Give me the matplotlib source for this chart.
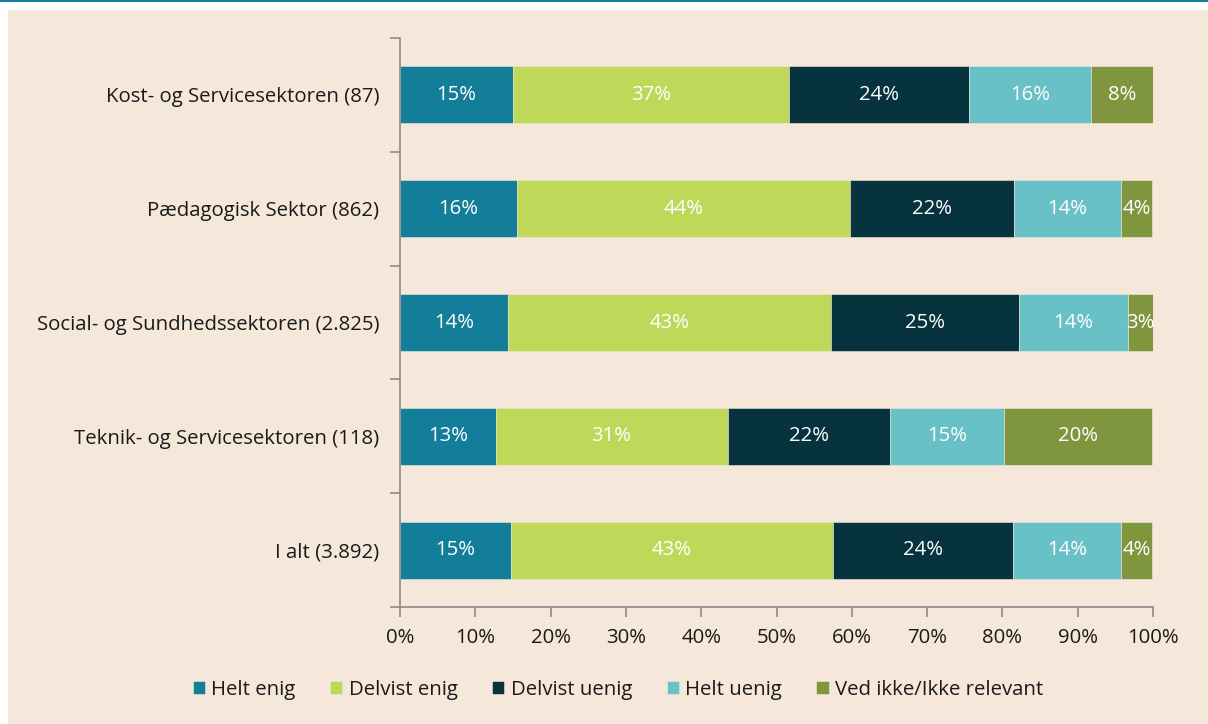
import matplotlib
matplotlib.use("Agg")
import matplotlib.pyplot as plt
from matplotlib.patches import Rectangle
import numpy as np

plt.rcParams['font.family'] = ['Open Sans', 'DejaVu Sans']

categories = ["Kost- og Servicesektoren (87)", "Pædagogisk Sektor (862)",
              "Social- og Sundhedssektoren (2.825)", "Teknik- og Servicesektoren (118)",
              "I alt (3.892)"]
series_names = ["Helt enig", "Delvist enig", "Delvist uenig", "Helt uenig", "Ved ikke/Ikke relevant"]
helt_enig = [15.0, 15.5, 14.4, 12.7, 14.7]
delvist_enig = [36.6, 44.2, 42.8, 30.8, 42.8]
delvist_uenig = [23.9, 21.8, 25.0, 21.6, 23.9]
helt_uenig = [16.3, 14.3, 14.5, 15.1, 14.4]
ved_ikke = [8.2, 4.1, 3.3, 19.7, 4.1]
xticks = [0, 10, 20, 30, 40, 50, 60, 70, 80, 90, 100]

series = [helt_enig, delvist_enig, delvist_uenig, helt_uenig, ved_ikke]
colors = ["#127E9A", "#BFD85A", "#07333F", "#68C1C6", "#80963E"]
bg = "#F5E8DB"
axcol = "#8C8C8C"
fs = 14.7

W, H = 1208, 724
fig = plt.figure(figsize=(W/100, H/100), dpi=100)
fig.patch.set_facecolor("white")
# beige panel and top teal line
fig.patches.append(Rectangle((8/W, 0), 1 - 8/W, (H-10)/H, transform=fig.transFigure,
                             facecolor=bg, edgecolor='none', zorder=-10))
fig.patches.append(Rectangle((0, (H-2)/H), 1, 2/H, transform=fig.transFigure,
                             facecolor="#127E9A", edgecolor='none', zorder=-10))

ax = fig.add_axes([400/W, 1 - 607/H, (1153-400)/W, (607-38)/H])
ax.patch.set_visible(False)

y = np.arange(len(categories))
left = np.zeros(len(categories))
for name, vals, c in zip(series_names, series, colors):
    vals = np.array(vals)
    ax.barh(y, vals, left=left, height=0.5, color=c, label=name,
            edgecolor="#EDEBD8", linewidth=0.4)
    for yi, l, v in zip(y, left, vals):
        ax.text(l + v/2, yi, f"{v:.0f}%", ha='center', va='center',
                color='white', fontsize=fs)
    left += vals

ax.set_xlim(0, 100)
ax.set_ylim(len(categories) - 0.5, -0.5)
ax.set_xticks(xticks)
ax.set_xticklabels([f"{t}%" for t in xticks], fontsize=fs, color="#1a1a1a")
ax.set_yticks(y)
ax.set_yticklabels(categories, fontsize=fs, color="#1a1a1a")
ax.set_yticks(np.arange(-0.5, len(categories)), minor=True)
ax.tick_params(axis='y', which='major', length=0, pad=15)
ax.tick_params(axis='y', which='minor', length=7, color=axcol, width=1.2)
ax.tick_params(axis='x', length=7, color=axcol, width=1.2, pad=8)
for s in ['top', 'right']:
    ax.spines[s].set_visible(False)
for s in ['left', 'bottom']:
    ax.spines[s].set_color(axcol)
    ax.spines[s].set_linewidth(1.2)

fig.legend(loc='center', bbox_to_anchor=(618/W, 1 - 690/H), ncol=5, frameon=False,
           fontsize=fs, handlelength=0.6, handleheight=0.6, handletextpad=0.3,
           columnspacing=1.7, labelcolor="#1a1a1a")

fig.savefig("out.png", dpi=100, facecolor=fig.get_facecolor())
